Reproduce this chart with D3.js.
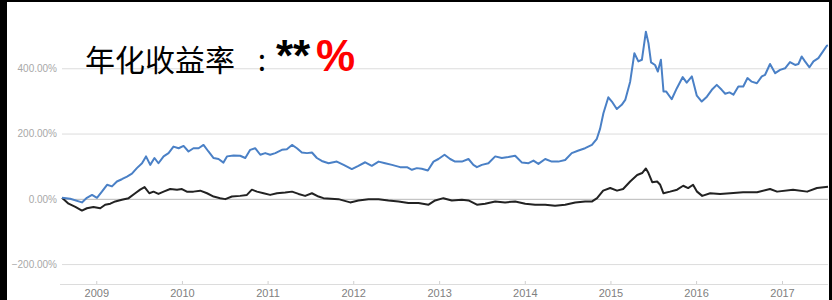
<!DOCTYPE html>
<html>
<head>
<meta charset="utf-8">
<script src="https://cdn.jsdelivr.net/npm/d3@7"></script>
<style>
  body { margin: 0; background: #fff; }
  #chart svg { display: block; }
</style>
</head>
<body>
<div id="chart"></div>
<script>
// Strategy cumulative return (%)
const strategy = [
    ["2008-08-08", 3], ["2008-09-12", 0], ["2008-11-01", -11], ["2008-11-22", 3], ["2008-12-14", 12],
    ["2009-01-04", 3], ["2009-01-25", 22], ["2009-02-16", 43], ["2009-03-09", 38], ["2009-03-30", 53],
    ["2009-04-20", 60], ["2009-05-12", 68], ["2009-06-02", 77], ["2009-06-23", 94], ["2009-07-15", 109],
    ["2009-08-01", 130], ["2009-08-19", 104], ["2009-09-06", 125], ["2009-09-23", 109], ["2009-10-15", 130],
    ["2009-11-05", 140], ["2009-11-26", 160], ["2009-12-18", 155], ["2010-01-08", 162], ["2010-01-29", 145],
    ["2010-02-19", 155], ["2010-03-13", 155], ["2010-04-03", 165], ["2010-04-24", 145], ["2010-05-16", 125],
    ["2010-06-06", 122], ["2010-06-27", 111], ["2010-07-12", 130], ["2010-08-09", 133], ["2010-09-06", 132],
    ["2010-09-28", 125], ["2010-10-19", 150], ["2010-11-09", 155], ["2010-12-01", 135], ["2010-12-22", 140],
    ["2011-01-12", 135], ["2011-02-03", 140], ["2011-03-03", 150], ["2011-03-24", 152], ["2011-04-15", 165],
    ["2011-05-06", 155], ["2011-05-27", 142], ["2011-06-18", 140], ["2011-07-09", 142], ["2011-07-30", 125],
    ["2011-08-20", 116], ["2011-09-18", 109], ["2011-10-23", 114], ["2011-11-21", 104], ["2011-12-26", 91],
    ["2012-01-23", 101], ["2012-02-21", 112], ["2012-03-20", 101], ["2012-04-18", 114], ["2012-05-16", 109],
    ["2012-06-14", 104], ["2012-07-19", 97], ["2012-08-17", 97], ["2012-09-07", 89], ["2012-09-28", 94],
    ["2012-10-19", 92], ["2012-11-14", 87], ["2012-12-08", 114], ["2012-12-29", 122], ["2013-01-24", 135],
    ["2013-02-17", 122], ["2013-03-10", 114], ["2013-04-08", 114], ["2013-05-06", 122], ["2013-05-27", 104],
    ["2013-06-11", 97], ["2013-07-02", 104], ["2013-07-30", 109], ["2013-08-28", 130], ["2013-09-25", 125],
    ["2013-10-23", 128], ["2013-11-21", 132], ["2013-12-20", 111], ["2014-01-17", 109], ["2014-02-07", 117],
    ["2014-02-28", 107], ["2014-03-29", 122], ["2014-04-26", 114], ["2014-05-24", 114], ["2014-06-22", 119],
    ["2014-07-20", 140], ["2014-08-18", 148], ["2014-09-15", 155], ["2014-10-14", 165], ["2014-11-04", 184],
    ["2014-11-18", 215], ["2014-12-02", 262], ["2014-12-23", 311], ["2015-01-07", 298], ["2015-01-28", 275],
    ["2015-02-18", 288], ["2015-03-05", 303], ["2015-03-26", 359], ["2015-04-13", 446], ["2015-04-30", 421],
    ["2015-05-15", 426], ["2015-06-01", 512], ["2015-06-12", 477], ["2015-06-23", 418], ["2015-07-10", 410],
    ["2015-07-22", 390], ["2015-08-04", 426], ["2015-08-15", 329], ["2015-08-26", 329], ["2015-09-19", 305],
    ["2015-10-11", 339], ["2015-11-05", 373], ["2015-11-22", 356], ["2015-12-14", 375], ["2016-01-04", 316],
    ["2016-01-25", 298], ["2016-02-16", 313], ["2016-03-08", 334], ["2016-03-29", 349], ["2016-04-19", 334],
    ["2016-05-04", 322], ["2016-05-22", 326], ["2016-06-08", 319], ["2016-06-29", 344], ["2016-07-20", 344],
    ["2016-08-07", 370], ["2016-08-25", 359], ["2016-09-16", 354], ["2016-10-07", 375], ["2016-10-21", 380],
    ["2016-11-11", 413], ["2016-12-03", 385], ["2016-12-24", 395], ["2017-01-14", 400], ["2017-02-04", 419],
    ["2017-02-26", 410], ["2017-03-12", 413], ["2017-03-26", 436], ["2017-04-09", 421], ["2017-04-28", 403],
    ["2017-05-15", 421], ["2017-06-05", 431], ["2017-06-24", 451], ["2017-07-11", 469], ["2017-07-16", 470]
];

// Benchmark cumulative return (%)
const benchmark = [
    ["2008-08-08", 3], ["2008-09-05", -15], ["2008-10-04", -25], ["2008-11-01", -36], ["2008-11-22", -29],
    ["2008-12-20", -25], ["2009-01-18", -29], ["2009-02-08", -18], ["2009-03-02", -15], ["2009-03-23", -8],
    ["2009-04-20", -3], ["2009-05-19", 2], ["2009-06-16", 17], ["2009-07-07", 28], ["2009-07-26", 36],
    ["2009-08-15", 17], ["2009-09-02", 22], ["2009-09-23", 15], ["2009-10-15", 22], ["2009-11-12", 30],
    ["2009-12-11", 28], ["2010-01-01", 30], ["2010-01-22", 22], ["2010-02-19", 22], ["2010-03-20", 25],
    ["2010-04-18", 17], ["2010-05-16", 7], ["2010-06-13", 2], ["2010-07-05", -1], ["2010-08-02", 7],
    ["2010-09-06", 9], ["2010-10-05", 12], ["2010-10-26", 28], ["2010-11-17", 22], ["2010-12-15", 17],
    ["2011-01-12", 12], ["2011-02-10", 17], ["2011-03-17", 19], ["2011-04-15", 22], ["2011-05-13", 15],
    ["2011-06-10", 9], ["2011-07-09", 17], ["2011-08-06", 7], ["2011-08-27", 2], ["2011-10-30", -1],
    ["2011-12-19", -11], ["2012-01-23", -5], ["2012-03-06", -1], ["2012-04-18", -1], ["2012-05-30", -5],
    ["2012-07-12", -8], ["2012-08-23", -13], ["2012-10-05", -13], ["2012-11-17", -18], ["2012-12-15", -5],
    ["2013-01-19", 2], ["2013-02-24", -5], ["2013-04-08", -3], ["2013-05-06", -5], ["2013-06-11", -18],
    ["2013-07-16", -15], ["2013-08-28", -8], ["2013-10-09", -11], ["2013-11-21", -8], ["2014-01-03", -15],
    ["2014-02-14", -18], ["2014-03-29", -18], ["2014-05-10", -21], ["2014-06-22", -18], ["2014-08-04", -11],
    ["2014-09-15", -8], ["2014-10-15", -8], ["2014-11-05", 2], ["2014-12-01", 25], ["2014-12-31", 33],
    ["2015-01-29", 25], ["2015-02-24", 30], ["2015-03-26", 53], ["2015-04-25", 73], ["2015-05-16", 79],
    ["2015-06-01", 93], ["2015-06-12", 79], ["2015-06-28", 51], ["2015-07-19", 53], ["2015-08-01", 43],
    ["2015-08-15", 17], ["2015-09-12", 22], ["2015-10-12", 28], ["2015-11-07", 40], ["2015-11-28", 33],
    ["2015-12-19", 43], ["2016-01-05", 22], ["2016-01-27", 9], ["2016-03-01", 17], ["2016-04-12", 15],
    ["2016-05-25", 17], ["2016-07-19", 20], ["2016-09-17", 20], ["2016-11-11", 30], ["2016-12-11", 22],
    ["2017-02-17", 28], ["2017-04-18", 22], ["2017-05-30", 33], ["2017-07-16", 37]
];

const yTicks = [-200, 0, 200, 400];
const xTicks = ["2009", "2010", "2011", "2012", "2013", "2014", "2015", "2016", "2017"];
const titleText = "年化收益率";

const svgWidth = 832;
const svgHeight = 300;
const plot = { left: 62, right: 828, top: 2, bottom: 284 };

const parse = d3.timeParse("%Y-%m-%d");
const toPoints = arr => arr.map(d => ({ date: parse(d[0]), value: d[1] }));
const s1 = toPoints(strategy);
const s2 = toPoints(benchmark);

const svg = d3.select("#chart").append("svg")
    .attr("width", svgWidth)
    .attr("height", svgHeight);

svg.append("rect").attr("width", svgWidth).attr("height", svgHeight).attr("fill", "#fff");

// Scales
const xScale = d3.scaleTime()
    .domain([parse("2008-08-08"), parse("2017-07-16")])
    .range([plot.left, plot.right]);

const yScale = d3.scaleLinear()
    .domain([-261, 603])
    .range([plot.bottom, plot.top]);

// Y axis with grid lines
const yAxis = svg.append("g")
    .attr("transform", `translate(${plot.left}, 0)`)
    .call(d3.axisLeft(yScale)
        .tickValues(yTicks)
        .tickSize(-(plot.right - plot.left))
        .tickPadding(5)
        .tickFormat(d => d3.format(".2f")(d) + "%"));
yAxis.select(".domain").remove();
yAxis.selectAll(".tick line")
    .attr("stroke", d => d === 0 ? "#b8b8b8" : "#dcdcdc");
yAxis.selectAll(".tick text")
    .attr("fill", "#a8a8a8")
    .style("font-family", "'Liberation Sans', Arial, sans-serif")
    .style("font-size", "10px");

// X axis
const xAxis = svg.append("g")
    .attr("transform", `translate(0, ${plot.bottom})`)
    .call(d3.axisBottom(xScale)
        .tickValues(xTicks.map(y => parse(y + "-01-01")))
        .tickSizeInner(-3)
        .tickSizeOuter(0)
        .tickPadding(5)
        .tickFormat(d3.timeFormat("%Y")));
xAxis.select(".domain").attr("stroke", "#dcdcdc").attr("d", `M${plot.left - 2},0.5H${plot.right}`);
xAxis.selectAll(".tick line").attr("stroke", "#cfcfcf");
xAxis.selectAll(".tick text")
    .attr("fill", "#808080")
    .style("font-family", "'Liberation Sans', Arial, sans-serif")
    .style("font-size", "11px");

// Lines
const line = d3.line()
    .x(d => xScale(d.date))
    .y(d => yScale(d.value));

svg.append("path")
    .datum(s2)
    .attr("fill", "none")
    .attr("stroke", "#222")
    .attr("stroke-width", 2)
    .attr("stroke-linejoin", "round")
    .attr("d", line);

svg.append("path")
    .datum(s1)
    .attr("fill", "none")
    .attr("stroke", "#4a80c6")
    .attr("stroke-width", 2)
    .attr("stroke-linejoin", "round")
    .attr("d", line);

// Title
svg.append("text")
    .attr("x", 85)
    .attr("y", 71)
    .style("font-family", "'Noto Sans CJK SC', sans-serif")
    .style("font-size", "30px")
    .attr("fill", "#000")
    .text(titleText);

svg.append("text")
    .attr("x", 262)
    .attr("y", 71)
    .attr("text-anchor", "middle")
    .style("font-family", "'Noto Sans CJK SC', sans-serif")
    .style("font-size", "30px")
    .attr("fill", "#000")
    .text(":");

svg.append("text")
    .attr("x", 276)
    .attr("y", 71)
    .style("font-family", "'Liberation Sans', Arial, sans-serif")
    .style("font-size", "44px")
    .style("font-weight", "bold")
    .attr("fill", "#000")
    .text("**");

svg.append("text")
    .attr("x", 316)
    .attr("y", 71)
    .style("font-family", "'Liberation Sans', Arial, sans-serif")
    .style("font-size", "44px")
    .style("font-weight", "bold")
    .attr("fill", "#ff0000")
    .text("%");

// Dark frame edges of the screenshot
svg.append("rect").attr("x", 0).attr("y", 0).attr("width", 7).attr("height", svgHeight).attr("fill", "#000");
svg.append("rect").attr("x", 0).attr("y", 0).attr("width", svgWidth).attr("height", 2).attr("fill", "#000");
svg.append("rect").attr("x", 829).attr("y", 0).attr("width", 3).attr("height", svgHeight).attr("fill", "#000");
</script>
</body>
</html>
